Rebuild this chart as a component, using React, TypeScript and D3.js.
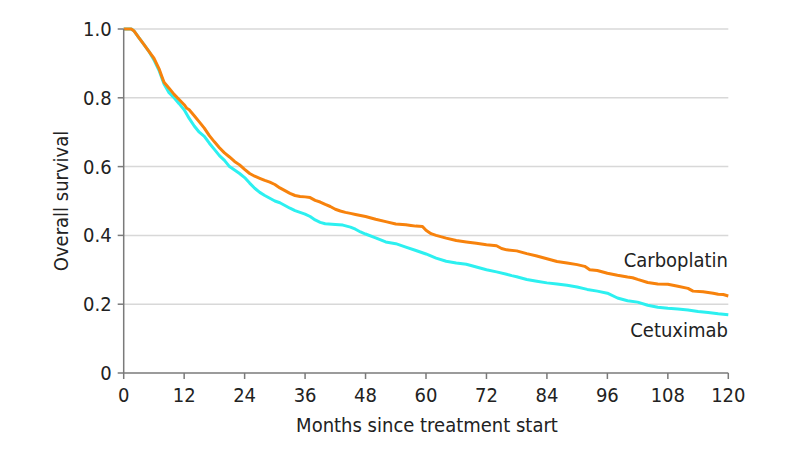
import React from "react";
import * as d3 from "d3";

const carboMonths = [0, 1.5, 2, 3, 4, 5, 6, 7, 7.5, 8, 9, 10, 11, 12, 12.5, 13, 14, 15, 16, 17, 18, 19, 20, 21, 22, 23, 24, 25, 26, 27, 28, 29, 30, 31, 32, 33, 34, 35, 36, 37, 38, 39, 40, 41, 42, 43, 44, 45, 46, 48, 50, 52, 54, 56, 57, 58, 59.3, 60, 61, 62, 64, 66, 68, 70, 72, 74, 75, 76, 78, 80, 82, 84, 86, 88, 90, 91.5, 92.5, 94, 96, 98, 100, 101, 102, 104, 106, 108, 110, 112, 113, 115, 117, 118, 119, 120];
const carboSurv = [1.0, 1.0, 0.995, 0.975, 0.955, 0.935, 0.915, 0.885, 0.865, 0.845, 0.828, 0.81, 0.795, 0.78, 0.77, 0.765, 0.748, 0.73, 0.712, 0.69, 0.672, 0.655, 0.64, 0.628, 0.615, 0.605, 0.592, 0.58, 0.572, 0.566, 0.56, 0.555, 0.548, 0.538, 0.53, 0.522, 0.516, 0.513, 0.512, 0.51, 0.502, 0.497, 0.49, 0.484, 0.476, 0.471, 0.467, 0.464, 0.461, 0.455, 0.447, 0.44, 0.433, 0.431, 0.429, 0.427, 0.426, 0.415, 0.405, 0.4, 0.392, 0.385, 0.381, 0.377, 0.373, 0.37, 0.362, 0.358, 0.355, 0.347, 0.34, 0.332, 0.324, 0.32, 0.315, 0.31, 0.3, 0.298, 0.29, 0.284, 0.279, 0.277, 0.272, 0.263, 0.259, 0.258, 0.252, 0.246, 0.238, 0.236, 0.232, 0.229, 0.228, 0.224];

const cetuxMonths = [0, 1.5, 2, 3, 4, 5, 6, 7, 8, 9, 10, 11, 12, 13, 14, 15, 16, 17, 18, 19, 20, 21, 22, 23, 24, 25, 26, 27, 28, 29, 30, 31, 32, 33, 34, 35, 36, 37, 38, 39, 40, 42, 43.5, 45, 46, 47, 48, 50, 51, 52, 54, 56, 58, 60, 62, 64, 66, 68, 70, 72, 74, 76, 77, 78, 80, 82, 84, 86, 88, 90, 92, 94, 96, 98, 100, 102, 104, 106, 108, 110, 112, 114, 116, 118, 120];
const cetuxSurv = [1.0, 1.0, 0.995, 0.975, 0.955, 0.935, 0.91, 0.88, 0.84, 0.815, 0.8, 0.783, 0.765, 0.74, 0.718, 0.7, 0.688, 0.668, 0.65, 0.632, 0.618, 0.6, 0.59, 0.58, 0.568, 0.552, 0.537, 0.525, 0.516, 0.508, 0.5, 0.495, 0.487, 0.479, 0.472, 0.467, 0.462, 0.455, 0.445, 0.438, 0.434, 0.432, 0.43, 0.424, 0.418, 0.41, 0.404, 0.393, 0.387, 0.381, 0.376, 0.366, 0.356, 0.346, 0.334, 0.325, 0.32, 0.316, 0.308, 0.3, 0.294, 0.287, 0.283, 0.28, 0.272, 0.267, 0.262, 0.259, 0.255, 0.25, 0.243, 0.238, 0.232, 0.218, 0.21, 0.206, 0.197, 0.191, 0.188, 0.186, 0.183, 0.179, 0.176, 0.172, 0.169];

const xTicks = [0, 12, 24, 36, 48, 60, 72, 84, 96, 108, 120];
const yTicks = [0, 0.2, 0.4, 0.6, 0.8, 1.0];
const yTickLabels = ["0", "0.2", "0.4", "0.6", "0.8", "1.0"];

const FONT = "'Liberation Sans Narrow', 'DejaVu Sans Condensed', 'Roboto Condensed', 'Liberation Sans', sans-serif";

export default function App() {
  const W = 794, H = 454;
  const x = d3.scaleLinear().domain([0, 120]).range([123.7, 728.3]);
  const y = d3.scaleLinear().domain([0, 1]).range([373, 29]);
  const line = d3.line<[number, number]>().x(d => x(d[0])).y(d => y(d[1])).curve(d3.curveLinear);
  const carbo = carboMonths.map((m, i) => [m, carboSurv[i]] as [number, number]);
  const cetux = cetuxMonths.map((m, i) => [m, cetuxSurv[i]] as [number, number]);
  const axisColor = "#7a7a7a";
  return (
    <svg width={W} height={H} style={{ position: "absolute", left: 0, top: 0, background: "#fff" }} fontFamily={FONT}>
      {yTicks.filter(t => t > 0).map(t => (
        <line key={"g" + t} x1={x(0)} x2={x(120)} y1={y(t)} y2={y(t)} stroke="#d8d8d8" strokeWidth={1.5} />
      ))}
      <path d={line(cetux) || ""} fill="none" stroke="#2cf0f0" strokeWidth={3} strokeLinejoin="round" />
      <path d={line(carbo) || ""} fill="none" stroke="#f7820c" strokeWidth={3} strokeLinejoin="round" />
      <line x1={x(0)} x2={x(0)} y1={y(0)} y2={y(1)} stroke={axisColor} strokeWidth={1.5} />
      <line x1={x(0)} x2={x(120)} y1={y(0)} y2={y(0)} stroke={axisColor} strokeWidth={1.5} />
      {yTicks.map((t, i) => (
        <g key={"y" + t}>
          <line x1={x(0) - 6} x2={x(0)} y1={y(t)} y2={y(t)} stroke={axisColor} strokeWidth={1.5} />
          <text x={x(0) - 12} y={y(t) + 7} textAnchor="end" fontSize={20} fill="#222">{yTickLabels[i]}</text>
        </g>
      ))}
      {xTicks.map(t => (
        <g key={"x" + t}>
          <line x1={x(t)} x2={x(t)} y1={y(0)} y2={y(0) + 6} stroke={axisColor} strokeWidth={1.5} />
          <text x={x(t)} y={402} textAnchor="middle" fontSize={20} fill="#222">{t}</text>
        </g>
      ))}
      <text x={427} y={432} textAnchor="middle" fontSize={20} fill="#222">Months since treatment start</text>
      <text transform={`translate(68,201) rotate(-90)`} textAnchor="middle" fontSize={20} fill="#222">Overall survival</text>
      <text x={728} y={267} textAnchor="end" fontSize={20} fill="#222">Carboplatin</text>
      <text x={728} y={337} textAnchor="end" fontSize={20} fill="#222">Cetuximab</text>
    </svg>
  );
}
